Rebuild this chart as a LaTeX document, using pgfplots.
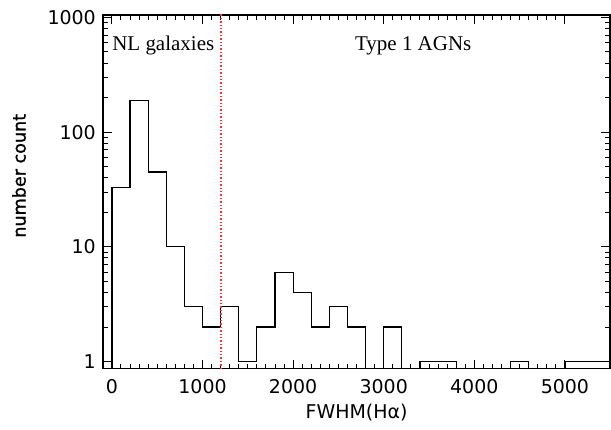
\documentclass[border=0pt]{standalone}
\usepackage{fontspec}
\setmainfont{DejaVu Sans}
\newfontfamily\serif{Liberation Serif}
\newfontfamily\ylfont[FakeBold=1.2]{DejaVu Sans}
\usepackage{pgfplots}
\pgfplotsset{compat=1.18}
\usetikzlibrary{calc}
\definecolor{dotred}{RGB}{250,50,50}
\begin{document}
\begin{tikzpicture}
\begin{axis}[
  name=ax,
  scale only axis,
  width=254pt, height=177pt,
  xmin=-100, xmax=5500,
  ymode=log, ymin=0.87, ymax=1050,
  xtick={0,1000,2000,3000,4000,5000},
  xticklabels={0,1000,2000,3000,4000,5000},
  minor x tick num=9,
  ytick={1,10,100,1000},
  yticklabels={1,10,100,1000},
  minor ytick={2,3,4,5,6,7,8,9,20,30,40,50,60,70,80,90,200,300,400,500,600,700,800,900},
  tick align=inside,
  major tick length=4.5pt, minor tick length=2.5pt,
  tick style={black, line width=0.5pt},
  axis line style={line width=0.8pt},
  ticklabel style={font=\fontsize{9.5}{11}\selectfont},
  xticklabel style={yshift=-2pt},
  xlabel={FWHM(Hα)},
  ylabel={number count},
  xlabel style={font=\fontsize{9.5}{11}\selectfont, yshift=2pt},
  ylabel style={font=\ylfont\fontsize{8.8}{10}\selectfont, yshift=4pt, xshift=8pt},
  clip=true,
]
\addplot[const plot, black, line width=0.6pt] coordinates {
 (0,0.1) (0,33) (200,190) (400,45) (600,10) (800,3) (1000,2) (1200,3) (1400,1)
 (1600,2) (1800,6) (2000,4) (2200,2) (2400,3) (2600,2) (2800,0.1) (3000,2)
 (3200,0.1) (3400,1) (3600,1) (3800,0.1) (4000,0.1) (4200,0.1) (4400,1)
 (4600,0.1) (4800,0.1) (5000,1) (5200,1) (5400,1) (5600,1)
};
\addplot[dotred, line width=1pt, dash pattern=on 0.7pt off 1.0pt] coordinates {(1200,0.5) (1200,2000)};
\node[anchor=west, font=\serif\fontsize{10.5}{12}\selectfont, inner sep=0pt] at (axis cs:0,570) {NL galaxies};
\node[anchor=west, font=\serif\fontsize{10.5}{12}\selectfont, inner sep=0pt] at (axis cs:2680,570) {Type 1 AGNs};
\end{axis}
\pgfresetboundingbox
\path ($(ax.south west)+(-51.5pt,-30.5pt)$) rectangle ($(ax.north east)+(0.4pt,7.5pt)$);
\end{tikzpicture}
\end{document}
